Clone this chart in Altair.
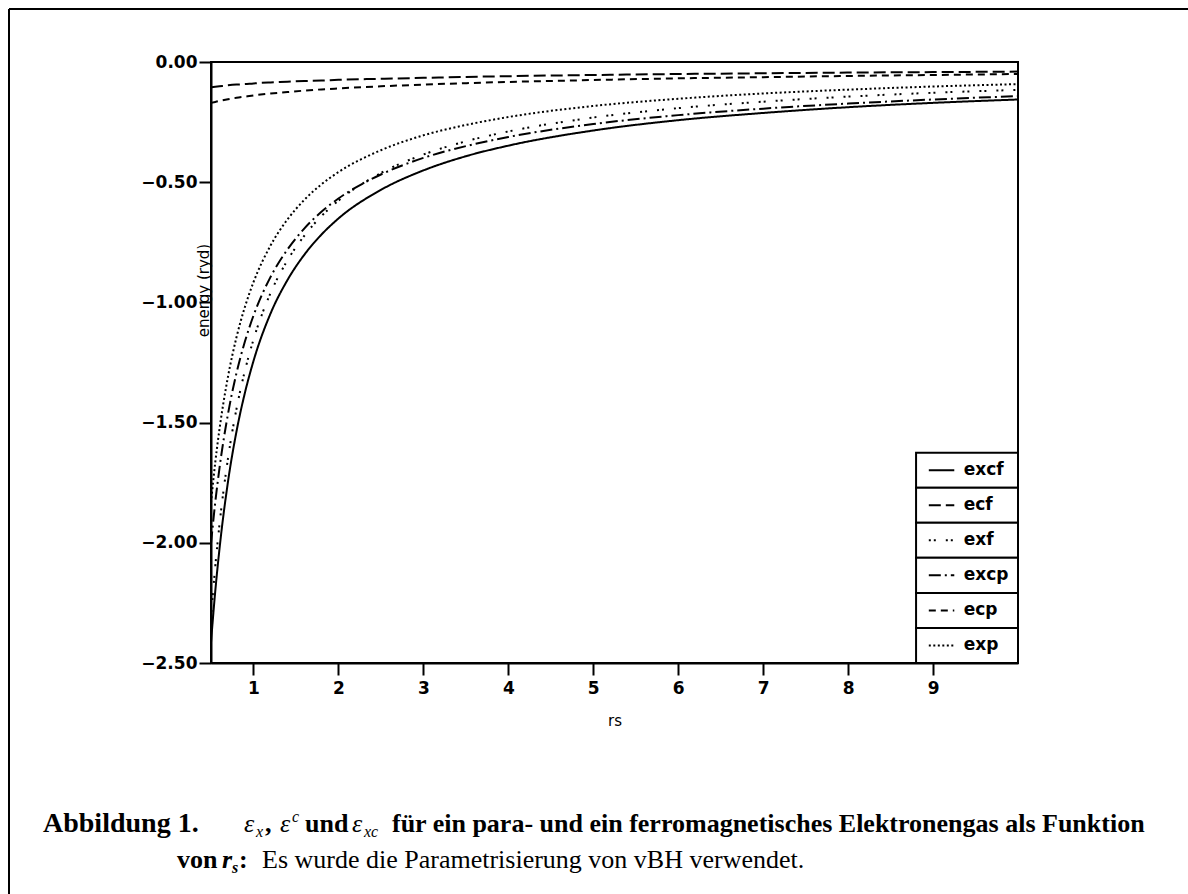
import altair as alt
import pandas as pd

# Wigner–Seitz radius r_s (bohr)
rs = [0.5, 0.55, 0.6, 0.7, 0.8, 0.9, 1.0, 1.2, 1.4, 1.6, 1.8, 2.0, 2.5, 3.0,
      3.5, 4.0, 5.0, 6.0, 7.0, 8.0, 9.0, 10.0]

# energies per electron (Ry), von Barth–Hedin parametrisation
excf = [-2.414, -2.202, -2.025, -1.746, -1.537, -1.375, -1.244, -1.047, -0.907,
        -0.801, -0.718, -0.651, -0.532, -0.451, -0.392, -0.348, -0.285, -0.242,
        -0.212, -0.188, -0.170, -0.156]
ecf = [-0.105, -0.103, -0.101, -0.097, -0.094, -0.092, -0.089, -0.085, -0.082,
       -0.079, -0.077, -0.074, -0.070, -0.066, -0.062, -0.059, -0.054, -0.050,
       -0.047, -0.044, -0.042, -0.040]
exf = [-2.309, -2.099, -1.924, -1.649, -1.443, -1.283, -1.155, -0.962, -0.825,
       -0.722, -0.641, -0.577, -0.462, -0.385, -0.330, -0.289, -0.231, -0.192,
       -0.165, -0.144, -0.128, -0.116]
excp = [-2.003, -1.832, -1.689, -1.464, -1.294, -1.162, -1.055, -0.895, -0.780,
        -0.692, -0.623, -0.568, -0.468, -0.399, -0.350, -0.312, -0.258, -0.221,
        -0.194, -0.173, -0.156, -0.142]
ecp = [-0.170, -0.166, -0.162, -0.155, -0.149, -0.144, -0.139, -0.131, -0.125,
       -0.119, -0.114, -0.110, -0.101, -0.094, -0.088, -0.083, -0.075, -0.068,
       -0.063, -0.058, -0.054, -0.050]
exp_ = [-1.833, -1.666, -1.527, -1.309, -1.145, -1.018, -0.916, -0.764, -0.655,
        -0.573, -0.509, -0.458, -0.367, -0.305, -0.262, -0.229, -0.183, -0.153,
        -0.131, -0.115, -0.102, -0.092]

series_names = ["excf", "ecf", "exf", "excp", "ecp", "exp"]
series_values = [excf, ecf, exf, excp, ecp, exp_]

x_ticks = [1, 2, 3, 4, 5, 6, 7, 8, 9]
y_ticks = [0.0, -0.5, -1.0, -1.5, -2.0, -2.5]

caption_head = "Abbildung 1."
caption_line1 = "für ein para- und ein ferromagnetisches Elektronengas als Funktion"
caption_line2 = "Es wurde die Parametrisierung von vBH verwendet."

# line styles, one per series
dashes = [[1, 0], [12, 5], [2, 3, 2, 10], [12, 4, 2, 4], [7, 5], [2, 2.5]]

W, H = 807, 601
SANS = "DejaVu Sans"
SERIF = "Liberation Serif"

rows = []
for name, vals in zip(series_names, series_values):
    for r, v in zip(rs, vals):
        rows.append({"rs": r, "energy": v, "series": name})
curves = pd.DataFrame(rows)

x_scale = alt.Scale(domain=[0.5, 10], nice=False, zero=False)
y_scale = alt.Scale(domain=[-2.5, 0], nice=False, zero=False)
dash_scale = alt.Scale(domain=series_names, range=dashes)

x_axis = alt.Axis(values=x_ticks, format="d", title="rs", grid=False,
                  tickSize=12, labelPadding=5, titleY=57, titleBaseline="middle")
y_axis = alt.Axis(values=y_ticks, format=".2f", title="energy (ryd)", grid=False,
                  tickSize=12, labelPadding=2, titleX=-8, titleY=228,
                  titleAngle=-90, titleAlign="center", titleBaseline="middle")


def xenc(field):
    return alt.X(f"{field}:Q", scale=x_scale, axis=x_axis)


def yenc(field):
    return alt.Y(f"{field}:Q", scale=y_scale, axis=y_axis)


lines = alt.Chart(curves).mark_line(
    strokeWidth=2, interpolate="monotone", color="black", strokeCap="butt"
).encode(
    x=xenc("rs"),
    y=yenc("energy"),
    detail="series:N",
    strokeDash=alt.StrokeDash("series:N", scale=dash_scale, legend=None),
)

# boxed key in the lower right corner of the plot, in data units
key_top, key_bottom = -1.625, -2.5
row_h = (key_top - key_bottom) / len(series_names)
key_rows, key_samples = [], []
for i, name in enumerate(series_names):
    top = key_top - i * row_h
    mid = top - row_h / 2
    key_rows.append({"series": name, "x0": 8.8, "x1": 10.0, "y0": top,
                     "y1": top - row_h, "ty": mid, "tx": 9.36})
    key_samples.append({"series": name, "sx": 8.95, "sy": mid})
    key_samples.append({"series": name, "sx": 9.25, "sy": mid})
key_rows = pd.DataFrame(key_rows)
key_samples = pd.DataFrame(key_samples)

key_boxes = alt.Chart(key_rows).mark_rect(
    fill="white", stroke="black", strokeWidth=2
).encode(x=xenc("x0"), x2="x1:Q", y=yenc("y0"), y2="y1:Q")

key_lines = alt.Chart(key_samples).mark_line(
    strokeWidth=2, color="black", strokeCap="butt"
).encode(
    x=xenc("sx"),
    y=yenc("sy"),
    detail="series:N",
    strokeDash=alt.StrokeDash("series:N", scale=dash_scale, legend=None),
)

key_text = alt.Chart(key_rows).mark_text(
    align="left", baseline="middle", font=SANS, fontSize=17, fontWeight="bold",
    color="black"
).encode(x=xenc("tx"), y=yenc("ty"), text="series:N")


def label(text, x, y, size=26, weight="normal", style="normal", font=SERIF):
    return alt.Chart(alt.Data(values=[{}])).mark_text(
        align="left", baseline="alphabetic", font=font, fontSize=size,
        fontWeight=weight, fontStyle=style, color="black"
    ).encode(x=alt.value(x), y=alt.value(y), text=alt.value(text))


# caption below the figure, with eps_x, eps^c, eps_xc and r_s
cap = [
    label(caption_head, -168, 770, size=28, weight="bold"),
    label("ε", 33, 770, style="italic"),
    label("x", 45, 775, size=16, style="italic"),
    label(",", 54, 770, weight="bold"),
    label("ε", 69, 770, style="italic"),
    label("c", 81, 760, size=16, style="italic"),
    label("und", 94, 770, weight="bold"),
    label("ε", 141, 770, style="italic"),
    label("xc", 153, 775, size=16, style="italic"),
    label(caption_line1, 181, 770, weight="bold"),
    label("von", -34, 806, weight="bold"),
    label("r", 11, 806, weight="bold", style="italic"),
    label("s", 21, 811, size=16, weight="bold", style="italic"),
    label(":", 28, 806, weight="bold"),
    label(caption_line2, 51, 806),
]

# frame lines around the figure (top and left)
frame_top = alt.Chart(alt.Data(values=[{}])).mark_rule(
    color="black", strokeWidth=2
).encode(x=alt.value(-202), x2=alt.value(977), y=alt.value(-53), y2=alt.value(-53))
frame_left = alt.Chart(alt.Data(values=[{}])).mark_rule(
    color="black", strokeWidth=2
).encode(x=alt.value(-202), x2=alt.value(-202), y=alt.value(-53), y2=alt.value(832))

chart = alt.layer(
    lines, key_boxes, key_lines, key_text, frame_top, frame_left, *cap
).properties(
    width=W, height=H,
    autosize=alt.AutoSizeParams(type="none"),
    padding={"left": 211, "top": 62, "right": 170, "bottom": 231},
    background="white",
).configure_view(
    stroke="black", strokeWidth=2
).configure_axis(
    domainColor="black", domainWidth=2, tickColor="black", tickWidth=2,
    labelFont=SANS, labelFontSize=17, labelFontWeight="bold", labelColor="black",
    titleFont=SANS, titleFontSize=15, titleFontWeight="normal", titleColor="black",
)

chart.save("out.html", embed_options={"renderer": "svg", "actions": False})
